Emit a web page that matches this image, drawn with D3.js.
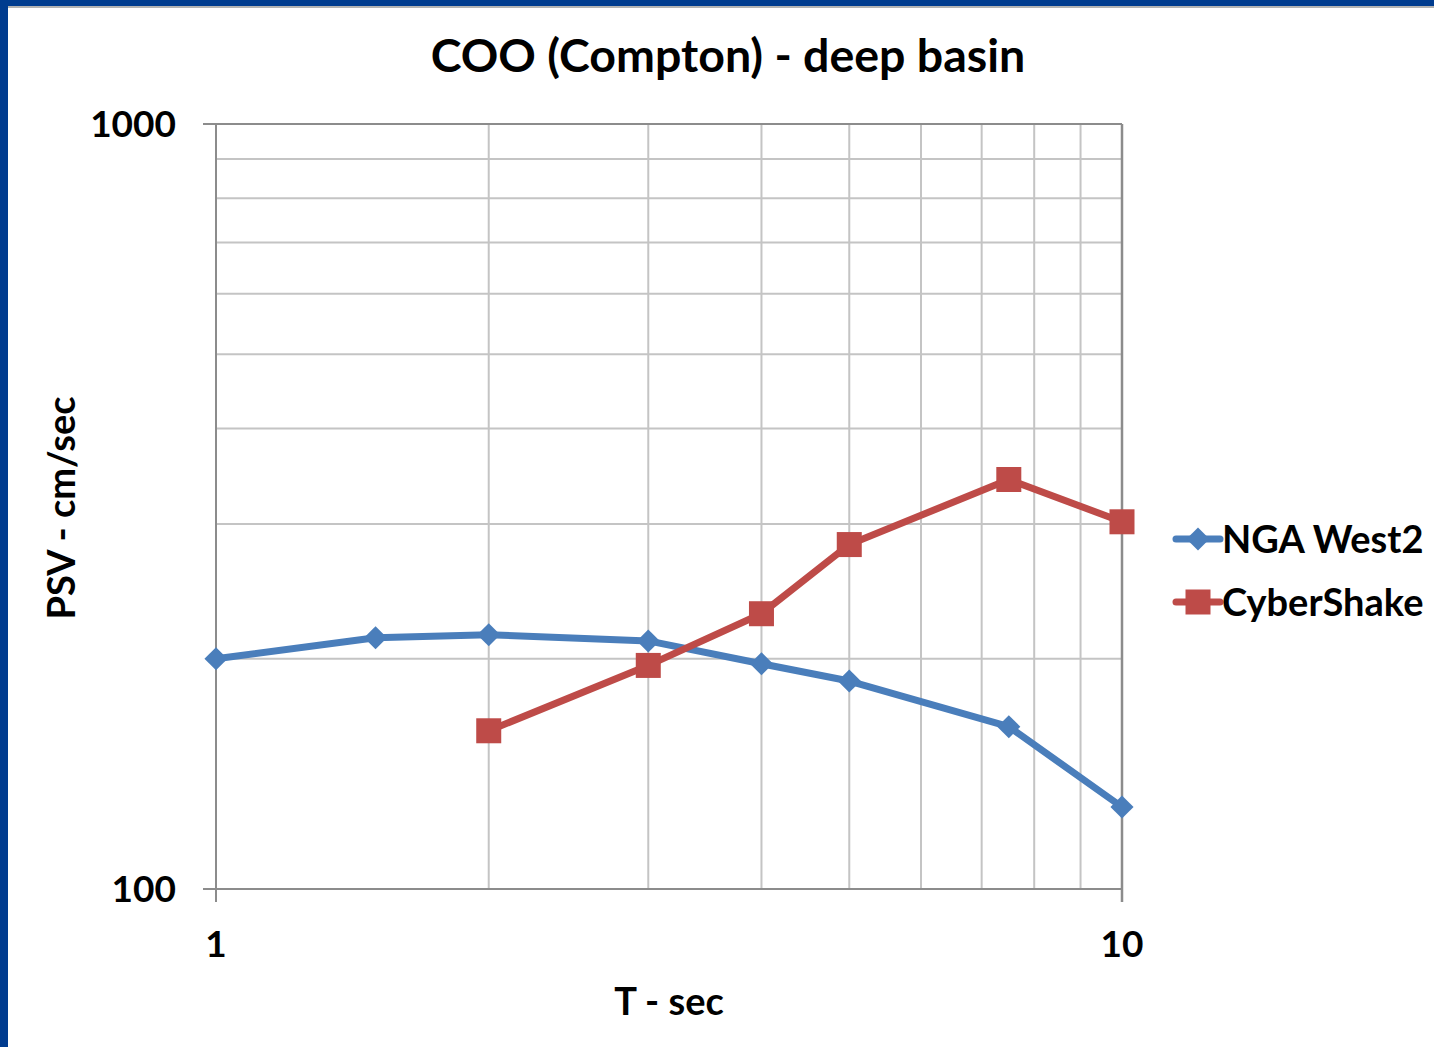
<!DOCTYPE html>
<html>
<head>
<meta charset="utf-8">
<script src="https://cdn.jsdelivr.net/npm/d3@7"></script>
<style>
  body { margin: 0; background: #fff; }
  svg { display: block; font-family: Lato, "Open Sans", sans-serif; font-weight: bold; }
</style>
</head>
<body>
<div id="plot"></div>
<script>
// periods (sec) and PSV values (cm/sec)
const ngaT = [1, 1.5, 2, 3, 4, 5, 7.5, 10];
const ngaPSV = [200, 213, 215, 211, 197, 187, 163, 128];
const csT = [2, 3, 4, 5, 7.5, 10];
const csPSV = [161, 196, 229, 282, 343, 302];
const xTicks = [1, 10];
const yTicks = [100, 1000];

const width = 1434, height = 1047;
const plotL = 216, plotR = 1122, plotT = 124, plotB = 889;

const svg = d3.select("#plot").append("svg")
  .attr("width", width)
  .attr("height", height);

// slide frame
svg.append("rect").attr("x", 0).attr("y", 0).attr("width", width).attr("height", 6).attr("fill", "#003c8f");
svg.append("rect").attr("x", 0).attr("y", 0).attr("width", 8).attr("height", height).attr("fill", "#003c8f");
svg.append("line").attr("x1", 8).attr("x2", width).attr("y1", 7).attr("y2", 7)
  .attr("stroke", "#9a9a9a").attr("stroke-width", 1.5);

const x = d3.scaleLog().domain([1, 10]).range([plotL, plotR]);
const y = d3.scaleLog().domain([100, 1000]).range([plotB, plotT]);

// minor gridlines
const xMinor = d3.range(2, 10);
const yMinor = d3.range(200, 1000, 100);

svg.append("g").selectAll("line")
  .data(xMinor).join("line")
  .attr("x1", d => x(d)).attr("x2", d => x(d))
  .attr("y1", plotT).attr("y2", plotB)
  .attr("stroke", "#c4c4c4").attr("stroke-width", 2);

svg.append("g").selectAll("line")
  .data(yMinor).join("line")
  .attr("x1", plotL).attr("x2", plotR)
  .attr("y1", d => y(d)).attr("y2", d => y(d))
  .attr("stroke", "#c4c4c4").attr("stroke-width", 2);

// outer frame / axes
const axisColor = "#8c8c8c";
svg.append("line").attr("x1", plotL - 13).attr("x2", plotR).attr("y1", plotT).attr("y2", plotT)
  .attr("stroke", axisColor).attr("stroke-width", 2);
svg.append("line").attr("x1", plotL - 13).attr("x2", plotR).attr("y1", plotB).attr("y2", plotB)
  .attr("stroke", axisColor).attr("stroke-width", 2);
svg.append("line").attr("x1", plotL).attr("x2", plotL).attr("y1", plotT).attr("y2", plotB + 13)
  .attr("stroke", axisColor).attr("stroke-width", 2);
svg.append("line").attr("x1", plotR).attr("x2", plotR).attr("y1", plotT).attr("y2", plotB + 13)
  .attr("stroke", axisColor).attr("stroke-width", 2.5);

// tick labels
svg.append("g").selectAll("text")
  .data(yTicks).join("text")
  .attr("x", plotL - 40).attr("y", d => y(d))
  .attr("dy", "0.36em")
  .attr("text-anchor", "end")
  .attr("font-size", 37)
  .text(d => d);

svg.append("g").selectAll("text")
  .data(xTicks).join("text")
  .attr("x", d => x(d)).attr("y", plotB + 55)
  .attr("dy", "0.36em")
  .attr("text-anchor", "middle")
  .attr("font-size", 37)
  .text(d => d);

// titles
svg.append("text").attr("x", 728).attr("y", 72)
  .attr("text-anchor", "middle").attr("font-size", 46.5)
  .text("COO (Compton) - deep basin");

svg.append("text").attr("x", 669).attr("y", 1015)
  .attr("text-anchor", "middle").attr("font-size", 38)
  .text("T - sec");

svg.append("text")
  .attr("transform", "translate(75, 508) rotate(-90)")
  .attr("text-anchor", "middle").attr("font-size", 38)
  .text("PSV - cm/sec");

// series
const blue = "#4a7ebb", red = "#be4b48";
const line = d3.line().x(d => x(d[0])).y(d => y(d[1]));
const nga = ngaT.map((t, i) => [t, ngaPSV[i]]);
const cs = csT.map((t, i) => [t, csPSV[i]]);

svg.append("path").datum(nga).attr("d", line)
  .attr("fill", "none").attr("stroke", blue).attr("stroke-width", 7).attr("stroke-linejoin", "round");
svg.append("path").datum(cs).attr("d", line)
  .attr("fill", "none").attr("stroke", red).attr("stroke-width", 7).attr("stroke-linejoin", "round");

const diamond = d3.symbol().type(d3.symbolDiamond2).size(340);
svg.append("g").selectAll("path")
  .data(nga).join("path")
  .attr("transform", d => `translate(${x(d[0])},${y(d[1])})`)
  .attr("d", diamond)
  .attr("fill", blue);

svg.append("g").selectAll("rect")
  .data(cs).join("rect")
  .attr("x", d => x(d[0]) - 12.5).attr("y", d => y(d[1]) - 12.5)
  .attr("width", 25).attr("height", 25)
  .attr("fill", red);

// legend
const legend = [["NGA West2", blue, "diamond"], ["CyberShake", red, "square"]];
const lg = svg.append("g").selectAll("g")
  .data(legend).join("g")
  .attr("transform", (d, i) => `translate(1176, ${539 + i * 63})`);
lg.append("line").attr("x1", 0).attr("x2", 44).attr("y1", 0).attr("y2", 0)
  .attr("stroke", d => d[1]).attr("stroke-width", 7).attr("stroke-linecap", "round");
lg.append("path")
  .attr("transform", "translate(22,0)")
  .attr("d", d => d[2] === "diamond" ? diamond() : d3.symbol().type(d3.symbolSquare).size(625)())
  .attr("fill", d => d[1]);
lg.append("text").attr("x", 46).attr("dy", "0.36em")
  .attr("font-size", 38)
  .text(d => d[0]);
</script>
</body>
</html>
